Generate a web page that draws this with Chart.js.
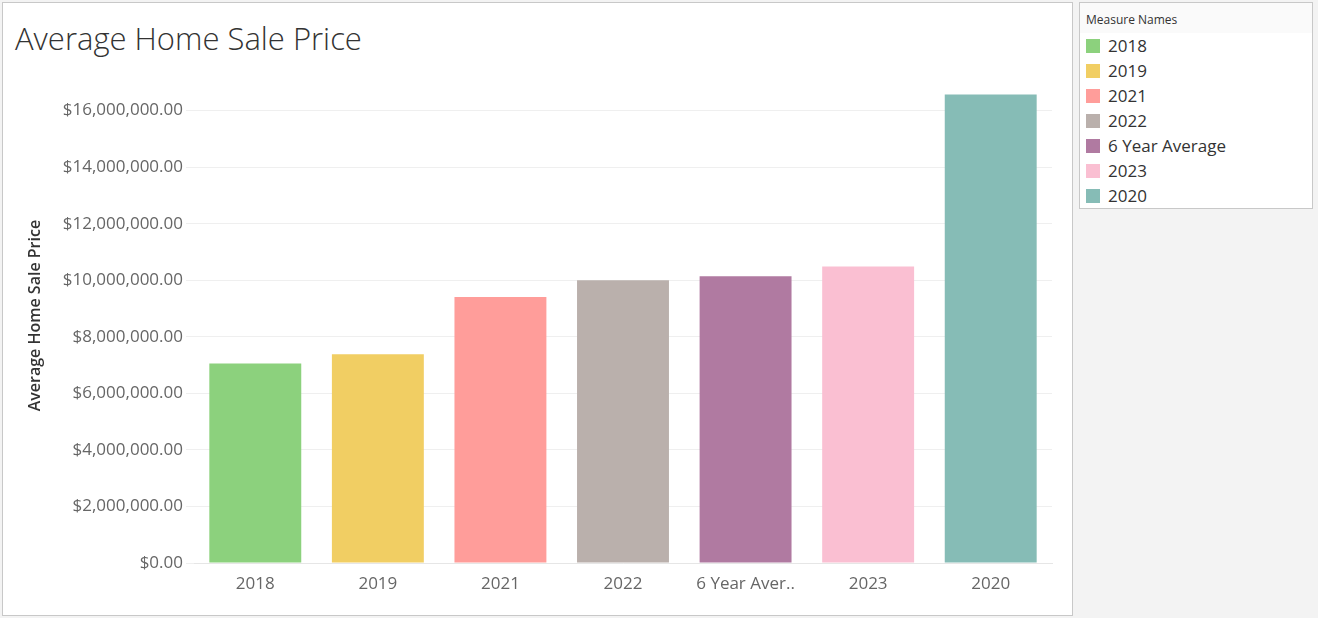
<!DOCTYPE html>
<html><head><meta charset="utf-8">
<script src="https://cdn.jsdelivr.net/npm/chart.js@4"></script>
<style>
body{margin:0;background:#f3f3f3;font-family:"Open Sans",sans-serif;width:1318px;height:618px;overflow:hidden}
#panel{position:absolute;left:2px;top:2px;width:1069px;height:612px;background:#fff;border:1px solid #c8c8c8}
#title{position:absolute;left:12px;top:14px;font-size:31px;font-weight:300;color:#333}
#cw{position:absolute;left:1px;top:52px;width:1060px;height:546px}
#legend{position:absolute;left:1079px;top:2px;width:232px;height:205px;background:#fff;border:1px solid #c8c8c8}
#legend .h{font-size:12px;color:#333;padding:8px 0 0 6px;height:22px;background:#fafafa}
#legend .i{font-size:17px;color:#333;height:25px;line-height:25px;padding-left:6px;display:flex;align-items:center}
#legend .s{width:14px;height:14px;margin-right:8px}
</style></head><body>
<div id="panel"><div id="title">Average Home Sale Price</div><div id="cw"><canvas id="c"></canvas></div></div>
<div id="legend"><div class="h">Measure Names</div></div>
<script>
const categories=["2018","2019","2021","2022","6 Year Average","2023","2020"];
const values=[7060000,7380000,9410000,10000000,10140000,10490000,16570000];
const colors=["#8cd17d","#f1ce63","#ff9d9a","#bab0ac","#b07aa1","#fabfd2","#86bcb6"];
const tickValues=[0,2000000,4000000,6000000,8000000,10000000,12000000,14000000,16000000];
const legendNames=["2018","2019","2021","2022","6 Year Average","2023","2020"];
const legendColors=["#8cd17d","#f1ce63","#ff9d9a","#bab0ac","#b07aa1","#fabfd2","#86bcb6"];
const lg=document.getElementById('legend');
legendNames.forEach((n,i)=>{const d=document.createElement('div');d.className='i';d.innerHTML='<span class="s" style="background:'+legendColors[i]+'"></span>'+n;lg.appendChild(d);});
const fmt=v=>'$'+v.toLocaleString('en-US',{minimumFractionDigits:2,maximumFractionDigits:2});
new Chart(document.getElementById('c'),{type:'bar',
data:{labels:categories,datasets:[{data:values,backgroundColor:colors,barPercentage:0.75,categoryPercentage:1}]},
options:{responsive:true,maintainAspectRatio:false,animation:false,
layout:{padding:{top:6,right:12,left:18}},
plugins:{legend:{display:false},tooltip:{enabled:false}},
scales:{
x:{grid:{display:false},border:{color:'#e6e6e6'},ticks:{color:'#666',font:{size:17,family:'Open Sans'},
 callback:function(v){const l=this.getLabelForValue(v);return l.length>12?l.slice(0,11)+'..':l;}},
 afterFit:s=>{s.height=38;}},
y:{min:0,max:17500000,border:{display:false},grid:{color:'#efefef'},
 afterBuildTicks:s=>{s.ticks=tickValues.map(v=>({value:v}));},
 ticks:{color:'#666',font:{size:17,family:'Open Sans'},callback:v=>fmt(v)},
 title:{display:true,text:'Average Home Sale Price',color:'#333',font:{size:16,weight:'600',family:'Open Sans'}},
 afterFit:s=>{s.width=172;}}
}}});
</script></body></html>
